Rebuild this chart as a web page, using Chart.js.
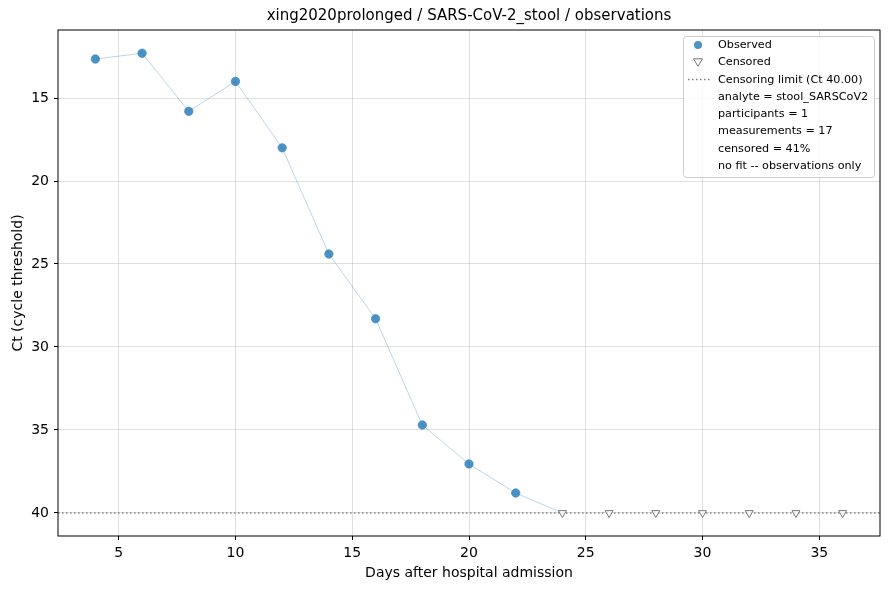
<!DOCTYPE html>
<html>
<head>
<meta charset="utf-8">
<script src="https://cdn.jsdelivr.net/npm/chart.js@4.4.1/dist/chart.umd.min.js"></script>
<style>
  html, body { margin: 0; padding: 0; background: #fff; }
  #wrap { width: 890px; height: 590px; }
</style>
</head>
<body>
<div id="wrap"><canvas id="ctChart" width="890" height="590"></canvas></div>
<script>
// dados
const obsDays = [4, 6, 8, 10, 12, 14, 16, 18, 20, 22];
const obsCt = [12.65, 12.3, 15.8, 14.0, 18.0, 24.4, 28.3, 34.7, 37.05, 38.8];
const censDays = [24, 26, 28, 30, 32, 34, 36];
const censCt = [40, 40, 40, 40, 40, 40, 40];
const censorLimit = 40;
const xTicks = [5, 10, 15, 20, 25, 30, 35];
const yTicks = [15, 20, 25, 30, 35, 40];
const titleText = 'xing2020prolonged / SARS-CoV-2_stool / observations';
const legendLabels = ['Observed', 'Censored', 'Censoring limit (Ct 40.00)'];
const legendNotes = ['analyte = stool_SARSCoV2', 'participants = 1', 'measurements = 17', 'censored = 41%', 'no fit -- observations only'];

const FONT = "'DejaVu Sans', sans-serif";
const blue = 'rgba(31, 119, 180, 0.8)';

const obsPoints = obsDays.map((d, i) => ({ x: d, y: obsCt[i] }));
const censPoints = censDays.map((d, i) => ({ x: d, y: censCt[i] }));
// trajetória até o primeiro ponto censurado
const linePoints = obsPoints.concat([censPoints[0]]);

// linha pontilhada do limite, moldura, título e legenda
const extras = {
  id: 'extras',
  beforeDatasetsDraw(chart) {
    const { ctx, chartArea, scales } = chart;
    const y = scales.y.getPixelForValue(censorLimit);
    ctx.save();
    ctx.strokeStyle = '#808080';
    ctx.lineWidth = 1.5;
    ctx.setLineDash([1.5, 2.5]);
    ctx.beginPath();
    ctx.moveTo(chartArea.left, y);
    ctx.lineTo(chartArea.right, y);
    ctx.stroke();
    ctx.restore();
  },
  afterDraw(chart) {
    const { ctx, chartArea } = chart;
    ctx.save();
    ctx.strokeStyle = '#000';
    ctx.lineWidth = 1;
    ctx.strokeRect(chartArea.left, chartArea.top, chartArea.right - chartArea.left, chartArea.bottom - chartArea.top);

    ctx.fillStyle = '#000';
    ctx.font = '15px ' + FONT;
    ctx.textAlign = 'center';
    ctx.textBaseline = 'middle';
    ctx.fillText(titleText, (chartArea.left + chartArea.right) / 2, 16);

    // legenda
    const bx = 683, by = 36, bw = 191, bh = 141;
    ctx.fillStyle = 'rgba(255,255,255,0.8)';
    ctx.strokeStyle = '#cccccc';
    ctx.lineWidth = 1;
    ctx.beginPath();
    ctx.roundRect(bx + 0.5, by + 0.5, bw, bh, 3);
    ctx.fill();
    ctx.stroke();

    const rowY = i => 45 + i * 17.3;
    ctx.font = '11.2px ' + FONT;
    ctx.textAlign = 'left';
    ctx.fillStyle = '#000';
    const allRows = legendLabels.concat(legendNotes);
    allRows.forEach((t, i) => ctx.fillText(t, 718, rowY(i)));

    // marcador observado
    ctx.fillStyle = blue;
    ctx.beginPath();
    ctx.arc(698, rowY(0), 4, 0, Math.PI * 2);
    ctx.fill();
    // marcador censurado
    ctx.strokeStyle = '#777';
    ctx.fillStyle = 'rgba(255,255,255,0.8)';
    ctx.beginPath();
    const ty = rowY(1);
    ctx.moveTo(693.5, ty - 3.5);
    ctx.lineTo(702.5, ty - 3.5);
    ctx.lineTo(698, ty + 4);
    ctx.closePath();
    ctx.fill();
    ctx.stroke();
    // linha pontilhada
    ctx.strokeStyle = '#808080';
    ctx.lineWidth = 1.5;
    ctx.setLineDash([1.5, 2.5]);
    ctx.beginPath();
    ctx.moveTo(688, rowY(2));
    ctx.lineTo(710, rowY(2));
    ctx.stroke();
    ctx.restore();
  }
};

const ctx = document.getElementById('ctChart').getContext('2d');
const ctChart = new Chart(ctx, {
  type: 'scatter',
  data: {
    datasets: [
      {
        label: 'Observed',
        data: obsPoints,
        backgroundColor: blue,
        borderColor: 'rgba(60, 140, 200, 0.9)',
        borderWidth: 0.8,
        pointRadius: 4.2,
        order: 1
      },
      {
        label: 'Censored',
        data: censPoints,
        pointStyle: 'triangle',
        rotation: 180,
        backgroundColor: 'rgba(255,255,255,0.8)',
        borderColor: '#777777',
        borderWidth: 1,
        pointRadius: 4.6,
        order: 2
      },
      {
        label: 'trajectory',
        type: 'line',
        data: linePoints,
        borderColor: 'rgba(31, 119, 180, 0.3)',
        borderWidth: 1,
        pointRadius: 0,
        fill: false,
        tension: 0,
        order: 3
      }
    ]
  },
  options: {
    responsive: false,
    animation: false,
    events: [],
    layout: { padding: { left: 0, top: 30, right: 10, bottom: 0 } },
    plugins: {
      legend: { display: false },
      title: { display: false },
      tooltip: { enabled: false }
    },
    scales: {
      x: {
        type: 'linear',
        min: 2.4,
        max: 37.6,
        afterBuildTicks: s => { s.ticks = xTicks.map(v => ({ value: v })); },
        afterFit: s => { s.height = 54; },
        grid: { color: 'rgba(176,176,176,0.4)', tickColor: '#000', tickLength: 4, drawTicks: true },
        border: { display: false },
        ticks: { color: '#000', font: { family: FONT, size: 14 }, padding: 5, maxRotation: 0 },
        title: { display: true, text: 'Days after hospital admission', color: '#000', font: { family: FONT, size: 14 }, padding: { top: 0, bottom: 8 } }
      },
      y: {
        type: 'linear',
        reverse: true,
        min: 10.9,
        max: 41.39,
        afterBuildTicks: s => { s.ticks = yTicks.map(v => ({ value: v })); },
        afterFit: s => { s.width = 58; },
        grid: { color: 'rgba(176,176,176,0.4)', tickColor: '#000', tickLength: 4, drawTicks: true },
        border: { display: false },
        ticks: { color: '#000', font: { family: FONT, size: 14 }, padding: 5 },
        title: { display: true, text: 'Ct (cycle threshold)', color: '#000', font: { family: FONT, size: 14 }, padding: { top: 10, bottom: 0 } }
      }
    }
  },
  plugins: [extras]
});
</script>
</body>
</html>
